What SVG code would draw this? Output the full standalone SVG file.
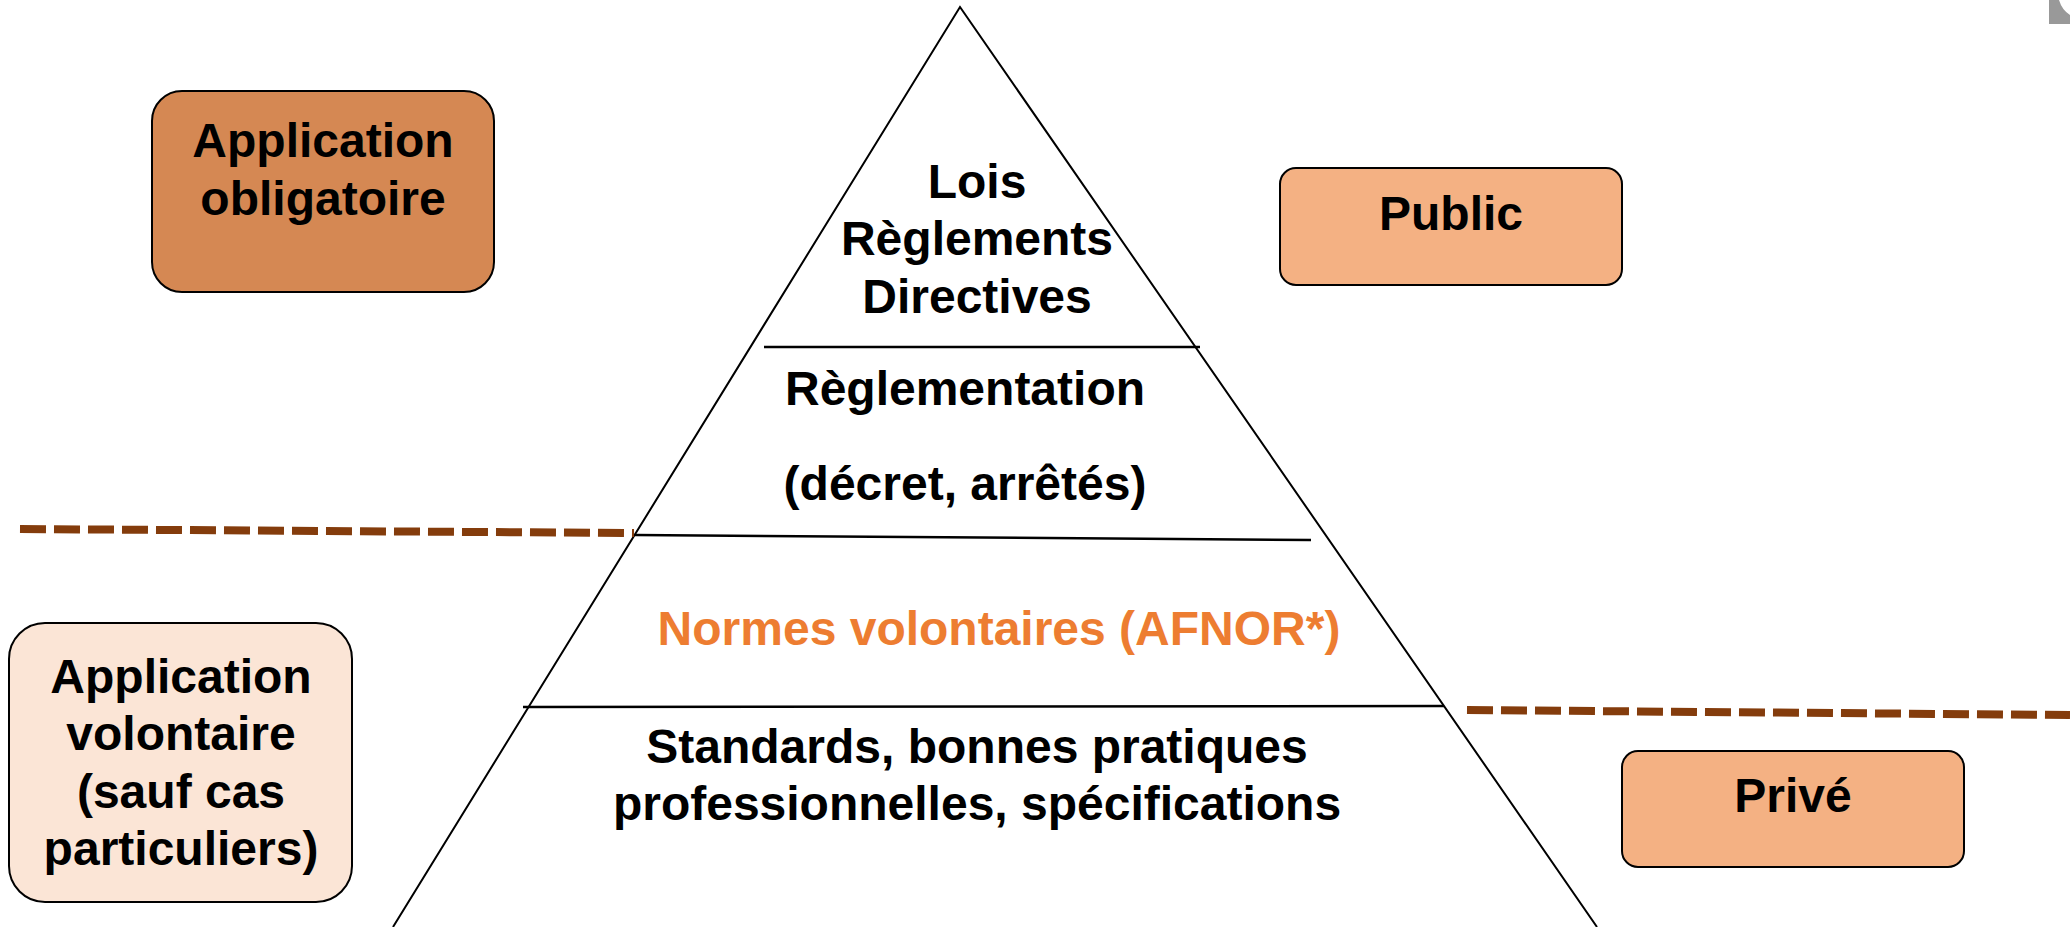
<svg xmlns="http://www.w3.org/2000/svg" width="2070" height="927" viewBox="0 0 2070 927">
<style>
  .box{stroke:#000;stroke-width:2}
  .t{font-family:"Liberation Sans",Arial,sans-serif;font-weight:bold;font-size:48px;fill:#000;text-anchor:middle}
  .ln{stroke:#000;stroke-width:2.5;fill:none}
  .tri{stroke:#000;stroke-width:2;fill:none}
  .dash{stroke:#843C0C;stroke-width:8;stroke-dasharray:26 8;fill:none}
</style>
<rect width="2070" height="927" fill="#fff"/>
<path d="M2049,0 H2059 Q2062,10 2070,15 V24 H2049 Z" fill="#999"/>
<g id="connectors">
  <path class="tri" d="M393,927 L960,7 L1597,927"/>
  <line class="ln" x1="764" y1="347" x2="1200" y2="347"/>
  <line class="ln" x1="635" y1="535" x2="1311" y2="540"/>
  <line class="ln" x1="523" y1="707" x2="1444" y2="706"/>
  <line class="dash" x1="20" y1="529" x2="634" y2="533"/>
  <line class="dash" x1="1467" y1="710" x2="2070" y2="715"/>
</g>
<g id="obligatoire">
  <rect class="box" x="152" y="91" width="342" height="201" rx="30" fill="#D58853"/>
  <text class="t" x="323" y="157">Application</text>
  <text class="t" x="323" y="215">obligatoire</text>
</g>
<g id="public">
  <rect class="box" x="1280" y="168" width="342" height="117" rx="16" fill="#F4B183"/>
  <text class="t" x="1451" y="230">Public</text>
</g>
<g id="volontaire">
  <rect class="box" x="9" y="623" width="343" height="279" rx="36" fill="#FBE5D6"/>
  <text class="t" x="181" y="693">Application</text>
  <text class="t" x="181" y="750">volontaire</text>
  <text class="t" x="181" y="808">(sauf cas</text>
  <text class="t" x="181" y="865">particuliers)</text>
</g>
<g id="prive">
  <rect class="box" x="1622" y="751" width="342" height="116" rx="16" fill="#F4B183"/>
  <text class="t" x="1793" y="812">Privé</text>
</g>
<g id="lois">
  <text class="t" x="977" y="198">Lois</text>
  <text class="t" x="977" y="255">Règlements</text>
  <text class="t" x="977" y="313">Directives</text>
</g>
<g id="reglementation">
  <text class="t" x="965" y="405">Règlementation</text>
  <text class="t" x="965" y="500">(décret, arrêtés)</text>
</g>
<g id="normes">
  <text class="t" x="999" y="645" style="fill:#ED7D31">Normes volontaires (AFNOR*)</text>
</g>
<g id="standards">
  <text class="t" x="977" y="763">Standards, bonnes pratiques</text>
  <text class="t" x="977" y="820">professionnelles, spécifications</text>
</g>
</svg>
